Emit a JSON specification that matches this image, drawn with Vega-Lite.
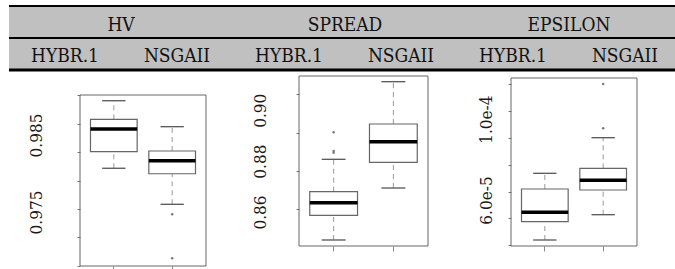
{
  "$schema": "https://vega.github.io/schema/vega-lite/v6.json",
  "width": 675,
  "height": 269,
  "padding": 0,
  "autosize": {"type": "none"},
  "background": "white",
  "config": {"view": {"stroke": null}, "tick": {"opacity": 1}, "font": "DejaVu Serif Condensed"},
  "datasets": {
    "metrics": [{"metric": "HV"}, {"metric": "SPREAD"}, {"metric": "EPSILON"}],
    "columns": [
      {"metric": "HV", "algorithm": "HYBR.1"}, {"metric": "HV", "algorithm": "NSGAII"},
      {"metric": "SPREAD", "algorithm": "HYBR.1"}, {"metric": "SPREAD", "algorithm": "NSGAII"},
      {"metric": "EPSILON", "algorithm": "HYBR.1"}, {"metric": "EPSILON", "algorithm": "NSGAII"}
    ],
    "hv_stats": [
      {"algorithm": "HYBR.1", "lower": 0.98068, "q1": 0.98283, "median": 0.98578, "q3": 0.98704, "upper": 0.98945},
      {"algorithm": "NSGAII", "lower": 0.976, "q1": 0.97997, "median": 0.98166, "q3": 0.98292, "upper": 0.98608}
    ],
    "hv_out": [{"algorithm": "NSGAII", "value": 0.9747}, {"algorithm": "NSGAII", "value": 0.96899}],
    "spread_stats": [
      {"algorithm": "HYBR.1", "lower": 0.84898, "q1": 0.85869, "median": 0.86365, "q3": 0.86798, "upper": 0.88072},
      {"algorithm": "NSGAII", "lower": 0.86943, "q1": 0.87954, "median": 0.88765, "q3": 0.89461, "upper": 0.91125}
    ],
    "spread_out": [{"algorithm": "HYBR.1", "value": 0.88332}, {"algorithm": "HYBR.1", "value": 0.88399}, {"algorithm": "HYBR.1", "value": 0.89135}],
    "eps_stats": [
      {"algorithm": "HYBR.1", "lower": 4.0198e-5, "q1": 4.9257e-5, "median": 5.3911e-5, "q3": 6.5446e-5, "upper": 7.3218e-5},
      {"algorithm": "NSGAII", "lower": 5.2723e-5, "q1": 6.495e-5, "median": 6.9752e-5, "q3": 7.5693e-5, "upper": 9.0842e-5}
    ],
    "eps_out": [{"algorithm": "NSGAII", "value": 9.5495e-5}, {"algorithm": "NSGAII", "value": 1.17426e-4}]
  },
  "resolve": {"scale": {"x": "independent", "y": "independent"}, "axis": {"x": "independent", "y": "independent"}},
  "layer": [
    {"data": {"name": "metrics"}, "mark": {"type": "rect", "color": "#c0c0c0"},
     "encoding": {
       "x": {"field": "metric", "type": "nominal", "scale": {"type": "band", "domain": ["HV", "SPREAD", "EPSILON"], "range": [9, 681], "paddingInner": 0, "paddingOuter": 0, "round": false}, "axis": null},
       "y": {"datum": "1", "type": "nominal", "scale": {"type": "band", "domain": ["1", "2"], "range": [6, 70], "paddingInner": 0, "paddingOuter": 0, "round": false}, "axis": null}}},
    {"data": {"name": "metrics"}, "mark": {"type": "rect", "color": "#c0c0c0"},
     "encoding": {
       "x": {"field": "metric", "type": "nominal", "scale": {"type": "band", "domain": ["HV", "SPREAD", "EPSILON"], "range": [9, 681], "paddingInner": 0, "paddingOuter": 0, "round": false}, "axis": null},
       "y": {"datum": "2", "type": "nominal", "scale": {"type": "band", "domain": ["1", "2"], "range": [6, 70], "paddingInner": 0, "paddingOuter": 0, "round": false}, "axis": null}}},
    {"data": {"values": [{}]}, "mark": {"type": "rule", "color": "#000", "strokeWidth": 2},
     "encoding": {
       "x": {"datum": "HV", "type": "nominal", "bandPosition": 0, "scale": {"type": "band", "domain": ["HV", "SPREAD", "EPSILON"], "range": [9, 681], "paddingInner": 0, "paddingOuter": 0, "round": false}, "axis": null},
       "x2": {"datum": "EPSILON", "bandPosition": 1},
       "y": {"datum": "1", "type": "nominal", "bandPosition": 0, "scale": {"type": "band", "domain": ["1", "2"], "range": [6, 70], "paddingInner": 0, "paddingOuter": 0, "round": false}, "axis": null}}},
    {"data": {"values": [{}]}, "mark": {"type": "rule", "color": "#000", "strokeWidth": 2},
     "encoding": {
       "x": {"datum": "HV", "type": "nominal", "bandPosition": 0, "scale": {"type": "band", "domain": ["HV", "SPREAD", "EPSILON"], "range": [9, 681], "paddingInner": 0, "paddingOuter": 0, "round": false}, "axis": null},
       "x2": {"datum": "EPSILON", "bandPosition": 1},
       "y": {"datum": "2", "type": "nominal", "bandPosition": 0, "scale": {"type": "band", "domain": ["1", "2"], "range": [6, 70], "paddingInner": 0, "paddingOuter": 0, "round": false}, "axis": null}}},
    {"data": {"values": [{}]}, "mark": {"type": "rule", "color": "#000", "strokeWidth": 3},
     "encoding": {
       "x": {"datum": "HV", "type": "nominal", "bandPosition": 0, "scale": {"type": "band", "domain": ["HV", "SPREAD", "EPSILON"], "range": [9, 681], "paddingInner": 0, "paddingOuter": 0, "round": false}, "axis": null},
       "x2": {"datum": "EPSILON", "bandPosition": 1},
       "y": {"datum": "2", "type": "nominal", "bandPosition": 1, "scale": {"type": "band", "domain": ["1", "2"], "range": [6, 70], "paddingInner": 0, "paddingOuter": 0, "round": false}, "axis": null}}},
    {"data": {"name": "metrics"}, "mark": {"type": "text", "font": "DejaVu Serif Condensed", "fontSize": 19, "color": "#111", "baseline": "middle", "dy": 3.2},
     "encoding": {
       "x": {"field": "metric", "type": "nominal", "scale": {"type": "band", "domain": ["HV", "SPREAD", "EPSILON"], "range": [9, 681], "paddingInner": 0, "paddingOuter": 0, "round": false}, "axis": null},
       "y": {"datum": "1", "type": "nominal", "scale": {"type": "band", "domain": ["1", "2"], "range": [6, 70], "paddingInner": 0, "paddingOuter": 0, "round": false}, "axis": null},
       "text": {"field": "metric"}}},
    {"data": {"name": "columns"}, "mark": {"type": "text", "font": "DejaVu Serif Condensed", "fontSize": 19, "color": "#111", "baseline": "middle", "dy": 1.7},
     "encoding": {
       "x": {"field": "metric", "type": "nominal", "scale": {"type": "band", "domain": ["HV", "SPREAD", "EPSILON"], "range": [9, 681], "paddingInner": 0, "paddingOuter": 0, "round": false}, "axis": null},
       "xOffset": {"field": "algorithm", "type": "nominal", "scale": {"type": "band", "domain": ["HYBR.1", "NSGAII"], "paddingInner": 0, "paddingOuter": -0.0175}},
       "y": {"datum": "2", "type": "nominal", "scale": {"type": "band", "domain": ["1", "2"], "range": [6, 70], "paddingInner": 0, "paddingOuter": 0, "round": false}, "axis": null},
       "text": {"field": "algorithm"}}},

    {"data": {"name": "hv_stats"}, "mark": {"type": "rule", "color": "#999", "strokeDash": [5, 4]},
     "encoding": {
       "x": {"field": "algorithm", "type": "nominal", "scale": {"type": "band", "domain": ["HYBR.1", "NSGAII"], "range": [80, 206], "paddingInner": 0.2, "paddingOuter": 0.18, "round": false}, "axis": null},
       "y": {"field": "q3", "type": "quantitative", "scale": {"domain": [0.967987, 0.9901948], "range": [266, 95], "zero": false, "nice": false}, "axis": null}, "y2": {"field": "upper"}}},
    {"data": {"name": "hv_stats"}, "mark": {"type": "rule", "color": "#999", "strokeDash": [5, 4]},
     "encoding": {
       "x": {"field": "algorithm", "type": "nominal", "scale": {"type": "band", "domain": ["HYBR.1", "NSGAII"], "range": [80, 206], "paddingInner": 0.2, "paddingOuter": 0.18, "round": false}, "axis": null},
       "y": {"field": "lower", "type": "quantitative", "scale": {"domain": [0.967987, 0.9901948], "range": [266, 95], "zero": false, "nice": false}, "axis": null}, "y2": {"field": "q1"}}},
    {"data": {"name": "hv_stats"}, "mark": {"type": "tick", "color": "#555", "thickness": 1.3, "size": 23.3, "opacity": 1},
     "encoding": {
       "x": {"field": "algorithm", "type": "nominal", "scale": {"type": "band", "domain": ["HYBR.1", "NSGAII"], "range": [80, 206], "paddingInner": 0.2, "paddingOuter": 0.18, "round": false}, "axis": null},
       "y": {"field": "upper", "type": "quantitative", "scale": {"domain": [0.967987, 0.9901948], "range": [266, 95], "zero": false, "nice": false}, "axis": null}}},
    {"data": {"name": "hv_stats"}, "mark": {"type": "tick", "color": "#555", "thickness": 1.3, "size": 23.3, "opacity": 1},
     "encoding": {
       "x": {"field": "algorithm", "type": "nominal", "scale": {"type": "band", "domain": ["HYBR.1", "NSGAII"], "range": [80, 206], "paddingInner": 0.2, "paddingOuter": 0.18, "round": false}, "axis": null},
       "y": {"field": "lower", "type": "quantitative", "scale": {"domain": [0.967987, 0.9901948], "range": [266, 95], "zero": false, "nice": false}, "axis": null}}},
    {"data": {"name": "hv_stats"}, "mark": {"type": "bar", "fill": "white", "stroke": "#666", "strokeWidth": 1.2},
     "encoding": {
       "x": {"field": "algorithm", "type": "nominal", "scale": {"type": "band", "domain": ["HYBR.1", "NSGAII"], "range": [80, 206], "paddingInner": 0.2, "paddingOuter": 0.18, "round": false},
             "axis": {"orient": "bottom", "offset": -3, "title": null, "labels": false, "domain": false, "grid": false, "ticks": true, "tickSize": 5, "tickColor": "#888", "bandPosition": 0.5}},
       "y": {"field": "q1", "type": "quantitative", "scale": {"domain": [0.967987, 0.9901948], "range": [266, 95], "zero": false, "nice": false},
             "axis": {"orient": "left", "offset": -80, "title": null, "domain": false, "grid": false,
                      "values": [0.9901948, 0.9864286, 0.9827532, 0.9790649, 0.9753896, 0.9717143, 0.967987, 0.985, 0.975],
                      "labelExpr": "datum.value == 0.985 ? '0.985' : datum.value == 0.975 ? '0.975' : ''",
                      "tickOpacity": {"condition": {"test": "datum.value == 0.985 || datum.value == 0.975", "value": 0}, "value": 1},
                      "tickSize": 3, "tickColor": "#777", "tickWidth": 1,
                      "labelAngle": 270, "labelAlign": "center", "labelBaseline": "bottom",
                      "labelFont": "DejaVu Serif Condensed", "labelFontSize": 17, "labelColor": "#1a1a1a",
                      "labelPadding": 31.5, "labelOverlap": false, "labelFlush": false, "labelBound": false}},
       "y2": {"field": "q3"}}},
    {"data": {"name": "hv_stats"}, "mark": {"type": "tick", "color": "#000", "thickness": 3.5, "size": 46.7, "opacity": 1},
     "encoding": {
       "x": {"field": "algorithm", "type": "nominal", "scale": {"type": "band", "domain": ["HYBR.1", "NSGAII"], "range": [80, 206], "paddingInner": 0.2, "paddingOuter": 0.18, "round": false}, "axis": null},
       "y": {"field": "median", "type": "quantitative", "scale": {"domain": [0.967987, 0.9901948], "range": [266, 95], "zero": false, "nice": false}, "axis": null}}},
    {"data": {"name": "hv_out"}, "mark": {"type": "circle", "size": 6, "color": "#777", "opacity": 1},
     "encoding": {
       "x": {"field": "algorithm", "type": "nominal", "scale": {"type": "band", "domain": ["HYBR.1", "NSGAII"], "range": [80, 206], "paddingInner": 0.2, "paddingOuter": 0.18, "round": false}, "axis": null},
       "y": {"field": "value", "type": "quantitative", "scale": {"domain": [0.967987, 0.9901948], "range": [266, 95], "zero": false, "nice": false}, "axis": null}}},
    {"data": {"values": [{}]}, "mark": {"type": "rect", "fill": "transparent", "stroke": "#666", "strokeWidth": 1},
     "encoding": {
       "x": {"datum": "HYBR.1", "type": "nominal", "bandPosition": -0.225, "scale": {"type": "band", "domain": ["HYBR.1", "NSGAII"], "range": [80, 206], "paddingInner": 0.2, "paddingOuter": 0.18, "round": false}, "axis": null},
       "x2": {"datum": "NSGAII", "bandPosition": 1.225},
       "y": {"datum": 0.9901948, "type": "quantitative", "scale": {"domain": [0.967987, 0.9901948], "range": [266, 95], "zero": false, "nice": false}, "axis": null},
       "y2": {"datum": 0.967987}}},

    {"data": {"name": "spread_stats"}, "mark": {"type": "rule", "color": "#999", "strokeDash": [5, 4]},
     "encoding": {
       "x": {"field": "algorithm", "type": "nominal", "scale": {"type": "band", "domain": ["HYBR.1", "NSGAII"], "range": [299, 428], "paddingInner": 0.2, "paddingOuter": 0.18, "round": false}, "axis": null},
       "y": {"field": "q3", "type": "quantitative", "scale": {"domain": [0.8466168, 0.9134933], "range": [246, 76], "zero": false, "nice": false}, "axis": null}, "y2": {"field": "upper"}}},
    {"data": {"name": "spread_stats"}, "mark": {"type": "rule", "color": "#999", "strokeDash": [5, 4]},
     "encoding": {
       "x": {"field": "algorithm", "type": "nominal", "scale": {"type": "band", "domain": ["HYBR.1", "NSGAII"], "range": [299, 428], "paddingInner": 0.2, "paddingOuter": 0.18, "round": false}, "axis": null},
       "y": {"field": "lower", "type": "quantitative", "scale": {"domain": [0.8466168, 0.9134933], "range": [246, 76], "zero": false, "nice": false}, "axis": null}, "y2": {"field": "q1"}}},
    {"data": {"name": "spread_stats"}, "mark": {"type": "tick", "color": "#555", "thickness": 1.3, "size": 23.9, "opacity": 1},
     "encoding": {
       "x": {"field": "algorithm", "type": "nominal", "scale": {"type": "band", "domain": ["HYBR.1", "NSGAII"], "range": [299, 428], "paddingInner": 0.2, "paddingOuter": 0.18, "round": false}, "axis": null},
       "y": {"field": "upper", "type": "quantitative", "scale": {"domain": [0.8466168, 0.9134933], "range": [246, 76], "zero": false, "nice": false}, "axis": null}}},
    {"data": {"name": "spread_stats"}, "mark": {"type": "tick", "color": "#555", "thickness": 1.3, "size": 23.9, "opacity": 1},
     "encoding": {
       "x": {"field": "algorithm", "type": "nominal", "scale": {"type": "band", "domain": ["HYBR.1", "NSGAII"], "range": [299, 428], "paddingInner": 0.2, "paddingOuter": 0.18, "round": false}, "axis": null},
       "y": {"field": "lower", "type": "quantitative", "scale": {"domain": [0.8466168, 0.9134933], "range": [246, 76], "zero": false, "nice": false}, "axis": null}}},
    {"data": {"name": "spread_stats"}, "mark": {"type": "bar", "fill": "white", "stroke": "#666", "strokeWidth": 1.2},
     "encoding": {
       "x": {"field": "algorithm", "type": "nominal", "scale": {"type": "band", "domain": ["HYBR.1", "NSGAII"], "range": [299, 428], "paddingInner": 0.2, "paddingOuter": 0.18, "round": false},
             "axis": {"orient": "bottom", "offset": -23, "title": null, "labels": false, "domain": false, "grid": false, "ticks": true, "tickSize": 5, "tickColor": "#888", "bandPosition": 0.5}},
       "y": {"field": "q1", "type": "quantitative", "scale": {"domain": [0.8466168, 0.9134933], "range": [246, 76], "zero": false, "nice": false},
             "axis": {"orient": "left", "offset": -299, "title": null, "domain": false, "grid": false,
                      "values": [0.9065303, 0.891188, 0.8761212, 0.8612903, 0.9, 0.88, 0.86],
                      "labelExpr": "datum.value == 0.9 ? '0.90' : datum.value == 0.88 ? '0.88' : datum.value == 0.86 ? '0.86' : ''",
                      "tickOpacity": {"condition": {"test": "datum.value == 0.9 || datum.value == 0.88 || datum.value == 0.86", "value": 0}, "value": 1},
                      "tickSize": 3, "tickColor": "#777", "tickWidth": 1,
                      "labelAngle": 270, "labelAlign": "center", "labelBaseline": "bottom",
                      "labelFont": "DejaVu Serif Condensed", "labelFontSize": 17, "labelColor": "#1a1a1a",
                      "labelPadding": 26.6, "labelOverlap": false, "labelFlush": false, "labelBound": false}},
       "y2": {"field": "q3"}}},
    {"data": {"name": "spread_stats"}, "mark": {"type": "tick", "color": "#000", "thickness": 3.5, "size": 47.8, "opacity": 1},
     "encoding": {
       "x": {"field": "algorithm", "type": "nominal", "scale": {"type": "band", "domain": ["HYBR.1", "NSGAII"], "range": [299, 428], "paddingInner": 0.2, "paddingOuter": 0.18, "round": false}, "axis": null},
       "y": {"field": "median", "type": "quantitative", "scale": {"domain": [0.8466168, 0.9134933], "range": [246, 76], "zero": false, "nice": false}, "axis": null}}},
    {"data": {"name": "spread_out"}, "mark": {"type": "circle", "size": 6, "color": "#777", "opacity": 1},
     "encoding": {
       "x": {"field": "algorithm", "type": "nominal", "scale": {"type": "band", "domain": ["HYBR.1", "NSGAII"], "range": [299, 428], "paddingInner": 0.2, "paddingOuter": 0.18, "round": false}, "axis": null},
       "y": {"field": "value", "type": "quantitative", "scale": {"domain": [0.8466168, 0.9134933], "range": [246, 76], "zero": false, "nice": false}, "axis": null}}},
    {"data": {"values": [{}]}, "mark": {"type": "rect", "fill": "transparent", "stroke": "#666", "strokeWidth": 1},
     "encoding": {
       "x": {"datum": "HYBR.1", "type": "nominal", "bandPosition": -0.225, "scale": {"type": "band", "domain": ["HYBR.1", "NSGAII"], "range": [299, 428], "paddingInner": 0.2, "paddingOuter": 0.18, "round": false}, "axis": null},
       "x2": {"datum": "NSGAII", "bandPosition": 1.225},
       "y": {"datum": 0.9134933, "type": "quantitative", "scale": {"domain": [0.8466168, 0.9134933], "range": [246, 76], "zero": false, "nice": false}, "axis": null},
       "y2": {"datum": 0.8466168}}},

    {"data": {"name": "eps_stats"}, "mark": {"type": "rule", "color": "#999", "strokeDash": [5, 4]},
     "encoding": {
       "x": {"field": "algorithm", "type": "nominal", "scale": {"type": "band", "domain": ["HYBR.1", "NSGAII"], "range": [511, 637], "paddingInner": 0.2, "paddingOuter": 0.18, "round": false}, "axis": null},
       "y": {"field": "q3", "type": "quantitative", "scale": {"domain": [3.72277e-5, 1.203961e-4], "range": [246, 78], "zero": false, "nice": false}, "axis": null}, "y2": {"field": "upper"}}},
    {"data": {"name": "eps_stats"}, "mark": {"type": "rule", "color": "#999", "strokeDash": [5, 4]},
     "encoding": {
       "x": {"field": "algorithm", "type": "nominal", "scale": {"type": "band", "domain": ["HYBR.1", "NSGAII"], "range": [511, 637], "paddingInner": 0.2, "paddingOuter": 0.18, "round": false}, "axis": null},
       "y": {"field": "lower", "type": "quantitative", "scale": {"domain": [3.72277e-5, 1.203961e-4], "range": [246, 78], "zero": false, "nice": false}, "axis": null}, "y2": {"field": "q1"}}},
    {"data": {"name": "eps_stats"}, "mark": {"type": "tick", "color": "#555", "thickness": 1.3, "size": 23.3, "opacity": 1},
     "encoding": {
       "x": {"field": "algorithm", "type": "nominal", "scale": {"type": "band", "domain": ["HYBR.1", "NSGAII"], "range": [511, 637], "paddingInner": 0.2, "paddingOuter": 0.18, "round": false}, "axis": null},
       "y": {"field": "upper", "type": "quantitative", "scale": {"domain": [3.72277e-5, 1.203961e-4], "range": [246, 78], "zero": false, "nice": false}, "axis": null}}},
    {"data": {"name": "eps_stats"}, "mark": {"type": "tick", "color": "#555", "thickness": 1.3, "size": 23.3, "opacity": 1},
     "encoding": {
       "x": {"field": "algorithm", "type": "nominal", "scale": {"type": "band", "domain": ["HYBR.1", "NSGAII"], "range": [511, 637], "paddingInner": 0.2, "paddingOuter": 0.18, "round": false}, "axis": null},
       "y": {"field": "lower", "type": "quantitative", "scale": {"domain": [3.72277e-5, 1.203961e-4], "range": [246, 78], "zero": false, "nice": false}, "axis": null}}},
    {"data": {"name": "eps_stats"}, "mark": {"type": "bar", "fill": "white", "stroke": "#666", "strokeWidth": 1.2},
     "encoding": {
       "x": {"field": "algorithm", "type": "nominal", "scale": {"type": "band", "domain": ["HYBR.1", "NSGAII"], "range": [511, 637], "paddingInner": 0.2, "paddingOuter": 0.18, "round": false},
             "axis": {"orient": "bottom", "offset": -23, "title": null, "labels": false, "domain": false, "grid": false, "ticks": true, "tickSize": 5, "tickColor": "#888", "bandPosition": 0.5}},
       "y": {"field": "q1", "type": "quantitative", "scale": {"domain": [3.72277e-5, 1.203961e-4], "range": [246, 78], "zero": false, "nice": false},
             "axis": {"orient": "left", "offset": -511, "title": null, "domain": false, "grid": false,
                      "values": [1.174258e-4, 1.040594e-4, 9.08416e-5, 7.73267e-5, 6.41089e-5, 5.09406e-5, 3.77227e-5, 1e-4, 6e-5],
                      "labelExpr": "datum.value == 0.0001 ? '1.0e-4' : datum.value == 0.00006 ? '6.0e-5' : ''",
                      "tickOpacity": {"condition": {"test": "datum.value == 0.0001 || datum.value == 0.00006", "value": 0}, "value": 1},
                      "tickSize": 3, "tickColor": "#777", "tickWidth": 1,
                      "labelAngle": 270, "labelAlign": "center", "labelBaseline": "bottom",
                      "labelFont": "DejaVu Serif Condensed", "labelFontSize": 17, "labelColor": "#1a1a1a",
                      "labelPadding": 12.3, "labelOverlap": false, "labelFlush": false, "labelBound": false}},
       "y2": {"field": "q3"}}},
    {"data": {"name": "eps_stats"}, "mark": {"type": "tick", "color": "#000", "thickness": 3.5, "size": 46.7, "opacity": 1},
     "encoding": {
       "x": {"field": "algorithm", "type": "nominal", "scale": {"type": "band", "domain": ["HYBR.1", "NSGAII"], "range": [511, 637], "paddingInner": 0.2, "paddingOuter": 0.18, "round": false}, "axis": null},
       "y": {"field": "median", "type": "quantitative", "scale": {"domain": [3.72277e-5, 1.203961e-4], "range": [246, 78], "zero": false, "nice": false}, "axis": null}}},
    {"data": {"name": "eps_out"}, "mark": {"type": "circle", "size": 6, "color": "#777", "opacity": 1},
     "encoding": {
       "x": {"field": "algorithm", "type": "nominal", "scale": {"type": "band", "domain": ["HYBR.1", "NSGAII"], "range": [511, 637], "paddingInner": 0.2, "paddingOuter": 0.18, "round": false}, "axis": null},
       "y": {"field": "value", "type": "quantitative", "scale": {"domain": [3.72277e-5, 1.203961e-4], "range": [246, 78], "zero": false, "nice": false}, "axis": null}}},
    {"data": {"values": [{}]}, "mark": {"type": "rect", "fill": "transparent", "stroke": "#666", "strokeWidth": 1},
     "encoding": {
       "x": {"datum": "HYBR.1", "type": "nominal", "bandPosition": -0.225, "scale": {"type": "band", "domain": ["HYBR.1", "NSGAII"], "range": [511, 637], "paddingInner": 0.2, "paddingOuter": 0.18, "round": false}, "axis": null},
       "x2": {"datum": "NSGAII", "bandPosition": 1.225},
       "y": {"datum": 1.203961e-4, "type": "quantitative", "scale": {"domain": [3.72277e-5, 1.203961e-4], "range": [246, 78], "zero": false, "nice": false}, "axis": null},
       "y2": {"datum": 3.72277e-5}}}
  ]
}
